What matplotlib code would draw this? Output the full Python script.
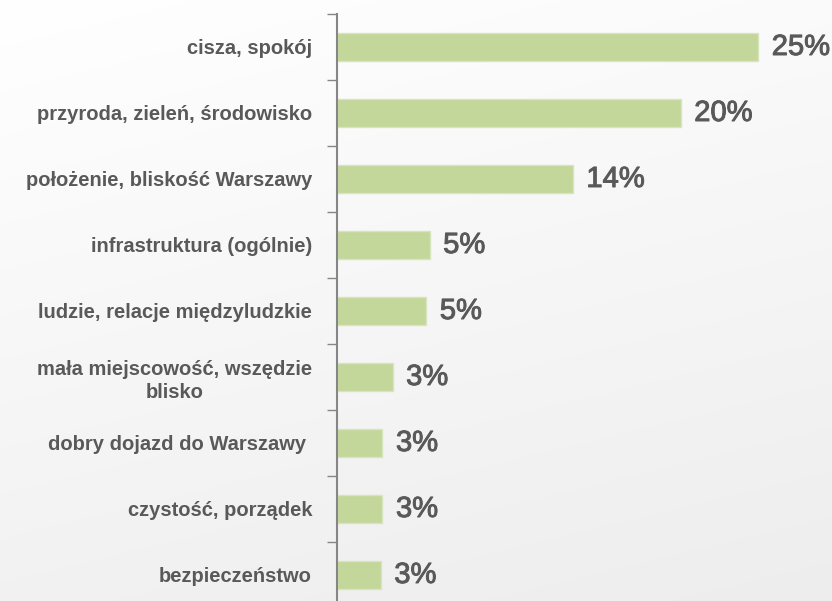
import numpy as np
from matplotlib import pyplot as plt
import matplotlib.patheffects as pe

categories = [
    "cisza, spokój",
    "przyroda, zieleń, środowisko",
    "położenie, bliskość Warszawy",
    "infrastruktura (ogólnie)",
    "ludzie, relacje międzyludzkie",
    "mała miejscowość, wszędzie\nblisko",
    "dobry dojazd do Warszawy ",
    "czystość, porządek",
    "bezpieczeństwo",
]
values = [25.0, 20.4, 14.0, 5.5, 5.3, 3.3, 2.7, 2.7, 2.6]
value_labels = ["25%", "20%", "14%", "5%", "5%", "3%", "3%", "3%", "3%"]

W, H = 832, 601
fig = plt.figure(figsize=(W / 100, H / 100), dpi=100)

# soft background gradient
bg = fig.add_axes([0, 0, 1, 1], zorder=-10)
yy, xx = np.mgrid[0:1:200j, 0:1:200j]
shade = 1.0 - 0.07 * (0.75 * yy + 0.25 * xx)
bg.imshow(np.dstack([shade] * 3), aspect="auto", extent=[0, 1, 0, 1], origin="upper")
bg.axis("off")

left, top, bottom = 337, 14, 608
ax = fig.add_axes([left / W, (H - bottom) / H, (W - left) / W, (bottom - top) / H])
ax.patch.set_alpha(0)

pos = np.arange(len(categories))
ax.barh(pos, values, height=0.41, color="#c4d79b", edgecolor="#d7e4bd", linewidth=1)
ax.set_ylim(len(categories) - 0.5, -0.5)
ax.set_xlim(0, 495 / 16.85)

txt = "#595959"
for p, v, lab in zip(pos, values, value_labels):
    ax.text(v + 0.8, p, lab, va="center", ha="left", fontsize=21,
            color=txt, family="Liberation Sans",
            path_effects=[pe.withStroke(linewidth=0.7, foreground=txt)])

ax.set_yticks(pos)
ax.set_yticklabels(categories, fontsize=14.5, fontweight="bold", color=txt,
                   family="Liberation Sans")
for t in ax.get_yticklabels():
    t.set_multialignment("center")
    t.set_linespacing(1.3)
ax.tick_params(axis="y", length=0, pad=18)
ax.set_yticks(np.arange(-0.5, len(categories), 1), minor=True)
ax.tick_params(axis="y", which="minor", length=7, color="#868686", width=1)
ax.set_xticks([])

for s in ["top", "right", "bottom"]:
    ax.spines[s].set_visible(False)
ax.spines["left"].set_color("#868686")
ax.spines["left"].set_linewidth(1.5)

plt.savefig("out.png", dpi=100)
